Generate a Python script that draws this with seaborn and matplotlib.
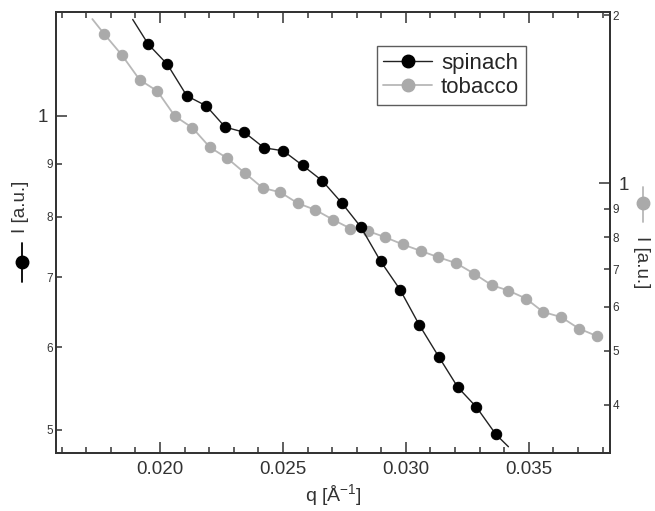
import numpy as np
import pandas as pd
import matplotlib
matplotlib.use('Agg')
import matplotlib.pyplot as plt
from matplotlib.lines import Line2D
from matplotlib.ticker import FixedLocator, FixedFormatter, MultipleLocator
import seaborn as sns

# datos (los extremos solo llevan linea, sin marcador)
spinach_q = [0.01889, 0.01952, 0.02030, 0.02109, 0.02188, 0.02265, 0.02343, 0.02423,
             0.02501, 0.02580, 0.02660, 0.02739, 0.02817, 0.02897, 0.02976, 0.03054,
             0.03133, 0.03211, 0.03287, 0.03366, 0.03417]
spinach_i = [1.2374, 1.1718, 1.1205, 1.0454, 1.0225, 0.9756, 0.9645, 0.9320,
             0.9259, 0.8965, 0.8665, 0.8253, 0.7823, 0.7255, 0.6815, 0.6305,
             0.5878, 0.5493, 0.5256, 0.4949, 0.4816]

tobacco_q = [0.017248, 0.017732, 0.018451, 0.019171, 0.019890, 0.020602, 0.021317,
             0.022028, 0.022736, 0.023451, 0.024175, 0.024890, 0.025602, 0.026309,
             0.027041, 0.027744, 0.028455, 0.029167, 0.029878, 0.030598, 0.031309,
             0.032041, 0.032764, 0.033488, 0.034167, 0.034878, 0.035589, 0.036309,
             0.037033, 0.037756, 0.037955]
tobacco_i = [1.9697, 1.8514, 1.6971, 1.5324, 1.4625, 1.3190, 1.2566, 1.1594,
             1.1079, 1.0422, 0.9799, 0.9627, 0.9199, 0.8954, 0.8592, 0.8286,
             0.8201, 0.7991, 0.7757, 0.7556, 0.7362, 0.7182, 0.6879, 0.6557,
             0.6412, 0.6204, 0.5867, 0.5747, 0.5480, 0.5315, 0.5269]

left_minor = [0.5, 0.6, 0.7, 0.8, 0.9]
left_minor_labels = ['5', '6', '7', '8', '9']
right_minor = [0.4, 0.5, 0.6, 0.7, 0.8, 0.9, 2.0]
right_minor_labels = ['4', '5', '6', '7', '8', '9', '2']

sns.set_style('ticks')
plt.rcParams['font.family'] = ['Liberation Sans', 'DejaVu Sans']
plt.rcParams['mathtext.fontset'] = 'custom'
plt.rcParams['mathtext.rm'] = 'Liberation Sans'
plt.rcParams['mathtext.default'] = 'regular'

ink = '#333333'
gris = '#aaaaaa'
gris_linea = '#b8b8b8'

fig = plt.figure(figsize=(6.55, 5.11), dpi=100)
ax = fig.add_axes([0.0855, 0.1135, 0.8458, 0.863])
ax2 = ax.twinx()

df_sp = pd.DataFrame({'q': spinach_q, 'I': spinach_i})
df_tb = pd.DataFrame({'q': tobacco_q, 'I': tobacco_i})

sns.lineplot(data=df_sp, x='q', y='I', ax=ax, color='#222222', linewidth=1.0,
             marker='o', markersize=7.5, markerfacecolor='black', markeredgecolor='black',
             markevery=list(range(1, len(spinach_q) - 1)), legend=False)
sns.lineplot(data=df_tb, x='q', y='I', ax=ax2, color=gris_linea, linewidth=1.3,
             marker='o', markersize=7.5, markerfacecolor=gris, markeredgecolor=gris,
             markevery=list(range(1, len(tobacco_q) - 1)), legend=False)

# ejes
ax.set_xlim(0.01577, 0.0383)
ax.set_yscale('log')
ax.set_ylim(0.475, 1.258)
ax2.set_yscale('log')
ax2.set_ylim(0.3276, 2.028)

ax.xaxis.set_major_locator(FixedLocator([0.020, 0.025, 0.030, 0.035]))
ax.xaxis.set_major_formatter(FixedFormatter(['0.020', '0.025', '0.030', '0.035']))
ax.xaxis.set_minor_locator(MultipleLocator(0.001))

ax.yaxis.set_major_locator(FixedLocator([1.0]))
ax.yaxis.set_major_formatter(FixedFormatter(['1']))
ax.yaxis.set_minor_locator(FixedLocator(left_minor))
ax.yaxis.set_minor_formatter(FixedFormatter(left_minor_labels))

ax2.yaxis.set_major_locator(FixedLocator([1.0]))
ax2.yaxis.set_major_formatter(FixedFormatter(['1']))
ax2.yaxis.set_minor_locator(FixedLocator(right_minor))
ax2.yaxis.set_minor_formatter(FixedFormatter(right_minor_labels))

ax.set_xlabel('q [Å$^{-1}$]', fontsize=14, color=ink, labelpad=3)
ax.set_ylabel('')
ax2.set_ylabel('')

ax.tick_params(axis='x', which='both', direction='in', top=True, colors=ink, labelsize=13.5, pad=6)
ax.tick_params(axis='x', which='major', length=8, width=1.1)
ax.tick_params(axis='x', which='minor', length=4.5, width=1.1)
ax.tick_params(axis='y', which='both', direction='in', right=False, colors=ink, width=1.1)
ax.tick_params(axis='y', which='major', length=8, labelsize=13.5, pad=6)
ax.tick_params(axis='y', which='minor', length=4.5, labelsize=8.5, pad=2)
ax2.tick_params(axis='y', which='both', direction='in', left=False, colors=ink, width=1.1)
ax2.tick_params(axis='y', which='major', length=8, labelsize=13.5, pad=6)
ax2.tick_params(axis='y', which='minor', length=4.5, labelsize=8.5, pad=2)

for a in (ax, ax2):
    for s in a.spines.values():
        s.set_color(ink)
        s.set_linewidth(1.3)

# leyenda combinada
handles = [Line2D([], [], color='#222222', lw=1.0, marker='o', markersize=9,
                  markerfacecolor='black', markeredgecolor='black'),
           Line2D([], [], color=gris_linea, lw=1.3, marker='o', markersize=9,
                  markerfacecolor=gris, markeredgecolor=gris)]
leg = ax.legend(handles, ['spinach', 'tobacco'], loc='upper right',
                bbox_to_anchor=(0.848, 0.923), fontsize=16, frameon=True,
                fancybox=False, edgecolor=ink, handlelength=2.2, handletextpad=0.4,
                borderpad=0.3, labelspacing=0.15, borderaxespad=0, numpoints=1)
leg.get_frame().set_linewidth(1.0)
ax.set_zorder(ax2.get_zorder() + 1)
ax.patch.set_visible(False)

# etiquetas de los ejes y con simbolo
fig.text(0.032, 0.596, 'I [a.u.]', rotation=90, ha='center', va='center',
         fontsize=13.5, color=ink)
fig.add_artist(Line2D([0.033, 0.033], [0.448, 0.5245], color='black', lw=1.3,
                      transform=fig.transFigure))
fig.add_artist(Line2D([0.033], [0.487], marker='o', markersize=9, color='black',
                      transform=fig.transFigure))

fig.text(0.979, 0.486, 'I [a.u.]', rotation=270, ha='center', va='center',
         fontsize=13.5, color=ink)
fig.add_artist(Line2D([0.981, 0.981], [0.5656, 0.634], color=gris_linea, lw=1.3,
                      transform=fig.transFigure))
fig.add_artist(Line2D([0.981], [0.6027], marker='o', markersize=9, color=gris,
                      transform=fig.transFigure))

fig.savefig('out.png', dpi=100)
